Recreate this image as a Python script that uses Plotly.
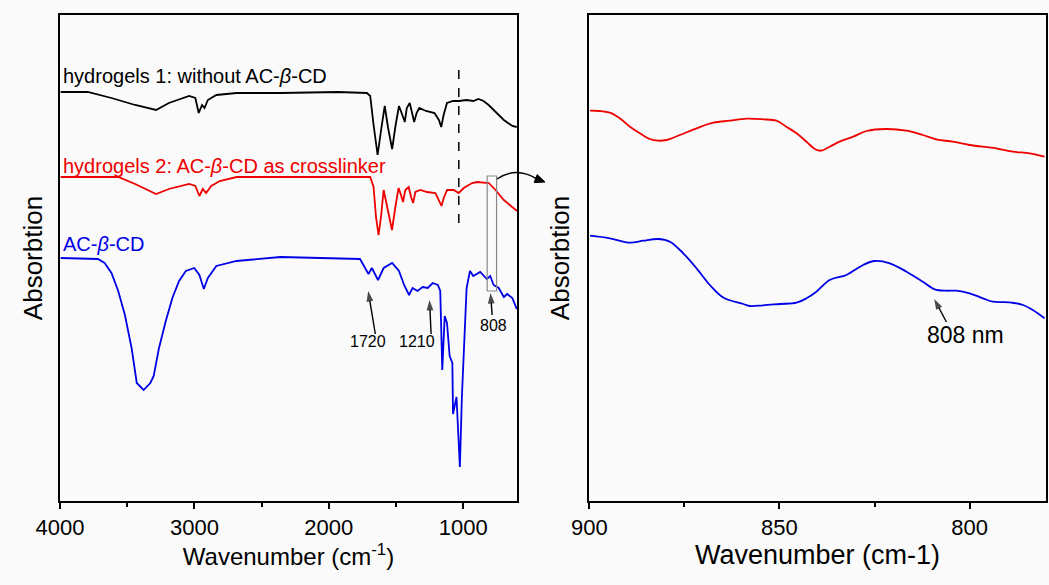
import plotly.graph_objects as go

# ---------------- Data (left panel: full FTIR spectra, a.u.) ----------------
wn_h1 = [3995, 3794, 3617, 3441, 3285, 3190, 3039, 2993, 2968, 2943, 2925, 2900, 2837, 2686, 2359, 1931,
         1717, 1692, 1667, 1637, 1609, 1584, 1559, 1529, 1503, 1478, 1453, 1435, 1420, 1398, 1377, 1365,
         1347, 1327, 1277, 1214, 1181, 1164, 1146, 1121, 1076, 1033, 975, 925, 887, 849, 811, 761, 698, 635, 602]
ab_h1 = [409, 409, 403, 396, 391, 398, 405, 403, 388, 396, 393, 401, 406, 408, 408, 409,
         408, 405, 376, 346, 373, 395, 373, 352, 376, 395, 386, 379, 393, 398, 386, 379,
         388, 393, 390, 388, 381, 374, 386, 398, 400, 400, 401, 400, 402, 400, 396, 389, 381, 375, 374]

wn_h2 = [3995, 3567, 3441, 3285, 3190, 3039, 2993, 2963, 2938, 2913, 2875, 2812, 2686, 1931, 1692,
         1667, 1649, 1630, 1612, 1592, 1567, 1530, 1505, 1481, 1463, 1448, 1431, 1406, 1386, 1373, 1356,
         1319, 1269, 1207, 1175, 1162, 1145, 1120, 1071, 1034, 996, 934, 896, 847, 810, 760, 698, 636, 598]
ab_h2 = [324, 324, 317, 307, 312, 317, 315, 305, 312, 308, 315, 320, 324, 324, 324,
         314, 284, 266, 284, 311, 294, 271, 294, 313, 306, 299, 311, 314, 303, 298, 309,
         311, 309, 308, 299, 295, 303, 311, 311, 308, 313, 318, 319, 318, 318, 311, 301, 294, 290]

wn_cd = [3995, 3718, 3668, 3617, 3567, 3517, 3466, 3441, 3429, 3378, 3328, 3303, 3265, 3215, 3164, 3114,
         3064, 3001, 2963, 2930, 2900, 2837, 2686, 2359, 1931, 1768, 1730, 1705, 1680, 1634, 1592, 1529,
         1478, 1440, 1403, 1377, 1340, 1302, 1264, 1227, 1189, 1171, 1156, 1138, 1121, 1101, 1081, 1076,
         1050, 1025, 1010, 995, 975, 950, 925, 874, 824, 799, 774, 736, 698, 673, 635, 602]
ab_cd = [243, 242, 238, 228, 210, 186, 152, 125, 118, 111, 118, 125, 152, 179, 203, 220,
         230, 233, 226, 212, 223, 235, 240, 244, 243, 242, 233, 227, 233, 221, 233, 238,
         230, 216, 206, 213, 210, 214, 213, 218, 216, 210, 131, 185, 178, 145, 138, 87,
         104, 34, 104, 152, 213, 230, 225, 229, 222, 225, 216, 213, 204, 207, 203, 192]

# ---------------- Data (right panel: 900-780 cm-1 zoom) ----------------
wn_z_h2 = [899.8, 897.2, 894.6, 892.0, 889.3, 886.7, 884.1, 881.9, 879.7, 876.2, 871.8, 867.4, 863.0,
           858.7, 854.3, 850.8, 848.2, 845.5, 842.9, 840.7, 839.0, 836.8, 834.2, 830.6, 827.1, 821.9,
           816.6, 812.3, 808.8, 804.4, 800.0, 793.0, 788.6, 784.2, 780.3]
ab_z_h2 = [390.3, 390.0, 388.3, 382.7, 374.3, 367.7, 362.0, 360.3, 361.0, 366.0, 372.7, 378.3, 380.3,
           382.3, 381.7, 380.3, 374.3, 367.7, 359.3, 352.0, 350.3, 354.3, 359.3, 364.3, 370.0, 372.0,
           370.3, 366.0, 361.7, 359.3, 356.0, 352.7, 349.3, 347.7, 344.3]

wn_z_cd = [899.8, 894.6, 889.3, 885.8, 881.9, 878.8, 875.3, 871.8, 868.3, 864.8, 859.5, 857.8, 854.3,
           849.9, 845.5, 842.9, 840.3, 836.8, 832.4, 828.0, 825.0, 821.0, 816.6, 812.3, 809.2, 806.1,
           803.5, 800.0, 796.5, 793.9, 789.5, 786.0, 783.4, 780.3]
ab_z_cd = [265.3, 262.7, 258.3, 260.3, 262.0, 259.3, 247.7, 232.7, 216.0, 203.5, 197.0, 195.0, 195.7,
           197.0, 198.3, 202.7, 209.3, 221.0, 226.0, 236.0, 240.0, 237.7, 229.3, 219.3, 211.7, 210.3,
           210.3, 207.7, 202.7, 199.3, 198.7, 196.0, 191.0, 182.7]

x_ticks_left = [4000, 3000, 2000, 1000]
x_ticks_right = [900, 850, 800]

# Peak labels: (text, text_x, text_y, tail_x, tail_y, head_x, head_y)
peak_labels = [("1720", 1706, 160, 1654, 167, 1707, 210),
               ("1210", 1341, 160, 1239, 167, 1251, 201),
               ("808", 775, 176, 785, 186, 797, 208)]
zoom_label = ("808 nm", 801, 166, 806.1, 179, 809.3, 202)

RED = "#ee0000"
BLUE = "#0000e6"
BLACK = "#000000"
FONT = "Arial, Liberation Sans, sans-serif"

fig = go.Figure()
fig.add_trace(go.Scatter(x=wn_h1, y=ab_h1, mode="lines", line=dict(color=BLACK, width=1.8),
                         name="hydrogels 1", xaxis="x", yaxis="y"))
fig.add_trace(go.Scatter(x=wn_h2, y=ab_h2, mode="lines", line=dict(color=RED, width=1.8),
                         name="hydrogels 2", xaxis="x", yaxis="y"))
fig.add_trace(go.Scatter(x=wn_cd, y=ab_cd, mode="lines", line=dict(color=BLUE, width=1.8),
                         name="AC-β-CD", xaxis="x", yaxis="y"))
fig.add_trace(go.Scatter(x=wn_z_h2, y=ab_z_h2, mode="lines", line=dict(color=RED, width=1.8, shape="spline"),
                         name="hydrogels 2 (zoom)", xaxis="x2", yaxis="y2"))
fig.add_trace(go.Scatter(x=wn_z_cd, y=ab_z_cd, mode="lines", line=dict(color=BLUE, width=1.8, shape="spline"),
                         name="AC-β-CD (zoom)", xaxis="x2", yaxis="y2"))

axis_common = dict(showline=True, linecolor="black", linewidth=2, mirror=True, showgrid=False,
                   zeroline=False, automargin=False)

fig.update_layout(
    width=1049, height=585,
    margin=dict(l=0, r=0, t=0, b=0, autoexpand=False),
    paper_bgcolor="#fafafa", plot_bgcolor="#fafafa",
    showlegend=False,
    font=dict(family=FONT, color="black"),
    xaxis=dict(domain=[60 / 1049, 517 / 1049], range=[4000, 600], anchor="y",
               tickvals=x_ticks_left, ticks="outside", ticklen=6, tickwidth=2, tickcolor="black",
               minor=dict(tickvals=[3500, 2500, 1500], ticks="outside", ticklen=4, tickwidth=1.5,
                          tickcolor="black"),
               tickfont=dict(size=22, family=FONT),
               title=dict(text="Wavenumber (cm<sup>-1</sup>)", font=dict(size=24, family=FONT), standoff=0),
               **axis_common),
    yaxis=dict(domain=[84 / 585, 570 / 585], range=[0, 486], anchor="x",
               showticklabels=False, ticks="",
               title=dict(text="Absorbtion", font=dict(size=26, family=FONT), standoff=8),
               **axis_common),
    xaxis2=dict(domain=[589.3 / 1049, 1045.7 / 1049], range=[900, 780], anchor="y2",
                tickvals=x_ticks_right, ticks="outside", ticklen=6, tickwidth=2, tickcolor="black",
                minor=dict(tickvals=[875, 825], ticks="outside", ticklen=4, tickwidth=1.5,
                           tickcolor="black"),
                tickfont=dict(size=22, family=FONT),
                title=dict(text="Wavenumber (cm-1)", font=dict(size=27, family=FONT), standoff=4),
                **axis_common),
    yaxis2=dict(domain=[84 / 585, 570 / 585], range=[0, 486], anchor="x2",
                showticklabels=False, ticks="",
                title=dict(text="Absorbtion", font=dict(size=26, family=FONT), standoff=10),
                **axis_common),
)

# Series labels
labels = [
    ("hydrogels 1: without AC-<i>β</i>-CD", BLACK, 425),
    ("hydrogels 2: AC-<i>β</i>-CD as crosslinker", RED, 335.5),
    ("AC-<i>β</i>-CD", BLUE, 257.5),
]
for txt, col, yv in labels:
    fig.add_annotation(x=3990, y=yv, xref="x", yref="y", text=txt, showarrow=False,
                       xanchor="left", yanchor="middle", font=dict(size=20, color=col, family=FONT))


def add_arrow(tx, ty, hx, hy, xa, ya):
    fig.add_trace(go.Scatter(x=[tx, hx], y=[ty, hy], mode="lines+markers", xaxis=xa, yaxis=ya,
                             line=dict(color="black", width=1.4),
                             marker=dict(symbol="arrow", size=[0, 11], angleref="previous",
                                         color="black", line=dict(width=0)),
                             hoverinfo="skip", showlegend=False))


for txt, tx, ty, axv, ayv, hx, hy in peak_labels:
    fig.add_annotation(x=tx, y=ty, xref="x", yref="y", text=txt, showarrow=False,
                       font=dict(size=16, family=FONT), xanchor="center", yanchor="middle")
    add_arrow(axv, ayv, hx, hy, "x", "y")

txt, tx, ty, axv, ayv, hx, hy = zoom_label
fig.add_annotation(x=tx, y=ty, xref="x2", yref="y2", text=txt, showarrow=False,
                   font=dict(size=23, family=FONT), xanchor="center", yanchor="middle")
add_arrow(axv, ayv, hx, hy, "x2", "y2")

# Dashed marker line and zoom box
fig.add_shape(type="line", xref="x", yref="y", x0=1033, x1=1033, y0=278, y1=435,
              line=dict(color="black", width=1.5, dash="dash"))
fig.add_shape(type="rect", xref="x", yref="y", x0=822, x1=752, y0=210, y1=325,
              line=dict(color="#888888", width=1.2))


# Curved arrow from zoom box to right panel (paper coordinates)
def P(px, py):
    return px / 1049, 1 - py / 585


sx, sy = P(497, 179)
cx, cy = P(516, 166)
ex, ey = P(537, 179)
fig.add_shape(type="path", xref="paper", yref="paper",
              path=f"M {sx},{sy} Q {cx},{cy} {ex},{ey}",
              line=dict(color="black", width=1.5))
t1 = P(545, 182)
t2 = P(534.2, 182.6)
t3 = P(537.2, 174.6)
fig.add_shape(type="path", xref="paper", yref="paper",
              path=f"M {t1[0]},{t1[1]} L {t2[0]},{t2[1]} L {t3[0]},{t3[1]} Z",
              line=dict(color="black", width=1), fillcolor="black")

fig.write_html("out.html", config={"displayModeBar": False},
               post_script="document.body.style.margin='0';document.body.style.padding='0';")
